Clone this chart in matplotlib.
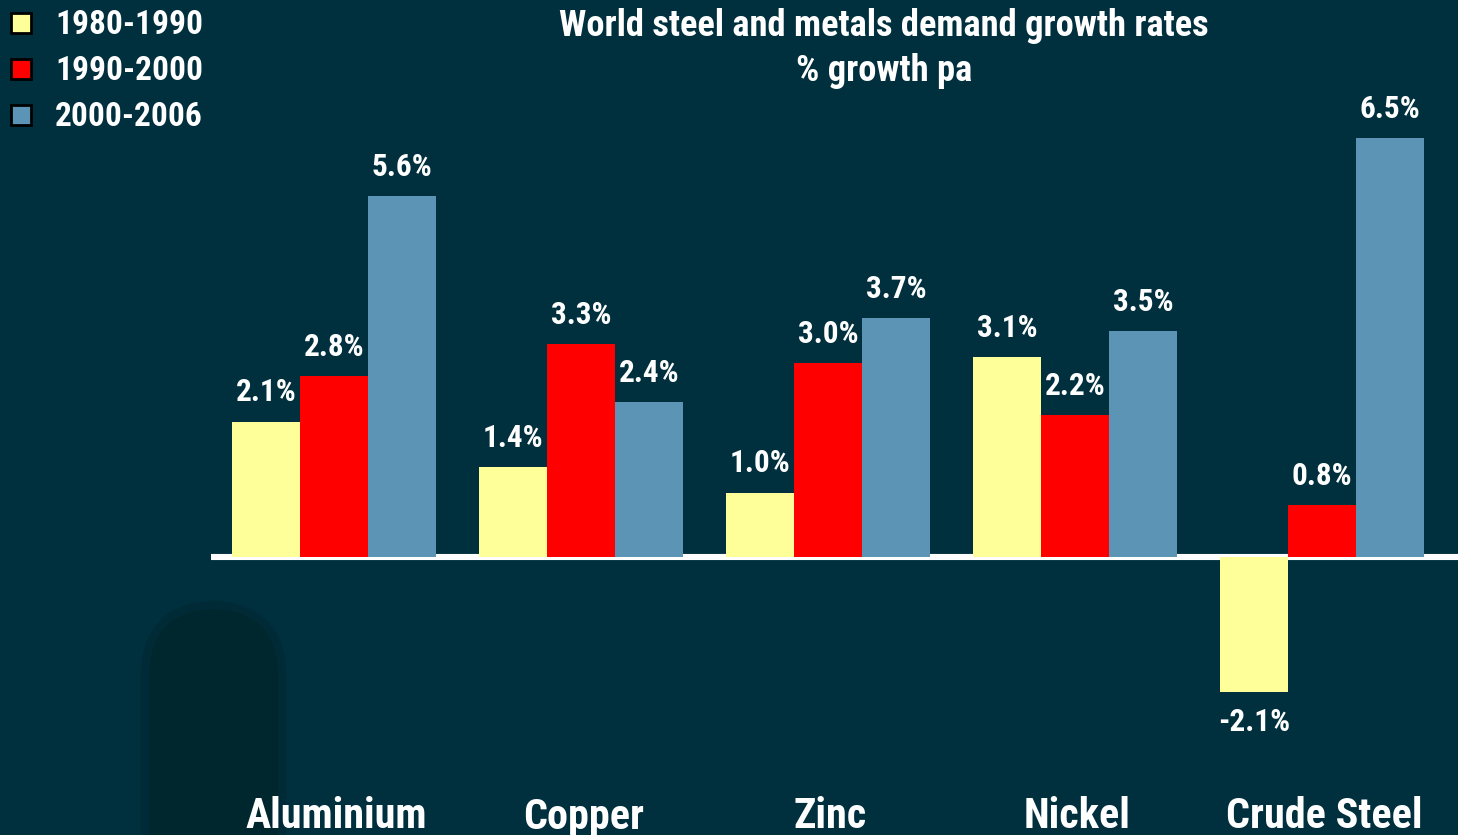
import matplotlib
matplotlib.use("Agg")
import matplotlib.pyplot as plt
from matplotlib.patches import FancyBboxPatch
from matplotlib.lines import Line2D
import numpy as np

categories = ["Aluminium", "Copper", "Zinc", "Nickel", "Crude Steel"]
series_names = ["1980-1990", "1990-2000", "2000-2006"]
v_1980_1990 = [2.1, 1.4, 1.0, 3.1, -2.1]
v_1990_2000 = [2.8, 3.3, 3.0, 2.2, 0.8]
v_2000_2006 = [5.6, 2.4, 3.7, 3.5, 6.5]
title_lines = ["World steel and metals demand growth rates", "% growth pa"]

colors = ["#FFFF99", "#FF0000", "#5B94B4"]
BG = "#002F3E"
FONT = ["Roboto Condensed", "DejaVu Sans"]

W, H = 1458, 835
fig = plt.figure(figsize=(W / 100, H / 100), dpi=100, facecolor=BG)
ax = fig.add_axes([0, 0, 1, 1], facecolor=BG)

# pixel mapping
px_per_unit_x = 247.0
x0_px = 334.0
zero_px_from_top = 557.0
px_per_pct = 64.5
ax.set_xlim(-x0_px / px_per_unit_x, (W - x0_px) / px_per_unit_x)
ax.set_ylim(-(H - zero_px_from_top) / px_per_pct, zero_px_from_top / px_per_pct)
ax.axis("off")

# faint shadow shape bottom-left
shadow = FancyBboxPatch((145 / W, -0.1), 137 / W, (H - 605) / H + 0.1,
                        boxstyle="round,pad=0,rounding_size=0.05",
                        transform=fig.transFigure, facecolor="#00262E",
                        edgecolor="#002A35", linewidth=6, zorder=0.5,
                        mutation_aspect=W / H)
ax.add_patch(shadow)

x = np.arange(len(categories))
bw = 0.275
all_series = [v_1980_1990, v_1990_2000, v_2000_2006]

# baseline
ax.plot([-0.5, 10], [0, 0], color="white", lw=4.4, zorder=2, solid_capstyle="butt")

for i, (vals, c) in enumerate(zip(all_series, colors)):
    xs = x + (i - 1) * bw
    ax.bar(xs, vals, width=bw, color=c, zorder=3, linewidth=0)
    for xi, v in zip(xs, vals):
        off = 21 if v >= 0 else -21
        ax.annotate(f"{v:.1f}%", (xi, v), xytext=(0, off), textcoords="offset points",
                    ha="center", va="center", color="white", fontsize=22.5,
                    fontweight="bold", family=FONT, zorder=4)

for xi, cat in zip(x, categories):
    ax.text(xi + 0.01, -(817 - zero_px_from_top) / px_per_pct, cat, ha="center", va="center",
            color="white", fontsize=30.3, fontweight="bold", family=FONT, zorder=4)

fig.text(884 / W, 1 - 26 / H, title_lines[0], ha="center", va="center", color="white",
         fontsize=26.3, fontweight="bold", family=FONT)
fig.text(884 / W, 1 - 71 / H, title_lines[1], ha="center", va="center", color="white",
         fontsize=26.3, fontweight="bold", family=FONT)

handles = [Line2D([0], [0], marker="s", linestyle="none", markersize=14,
                  markerfacecolor=c, markeredgecolor="black", markeredgewidth=2)
           for c in colors]
leg = fig.legend(handles, series_names, loc="upper left", bbox_to_anchor=(8 / W, 1 - 6 / H),
                 frameon=False, handlelength=0.6, handletextpad=0.72, labelspacing=0.42,
                 prop={"family": FONT, "weight": "bold", "size": 24}, borderaxespad=0,
                 borderpad=0.1)
for t in leg.get_texts():
    t.set_color("white")

fig.savefig("out.png", dpi=100, facecolor=BG)
